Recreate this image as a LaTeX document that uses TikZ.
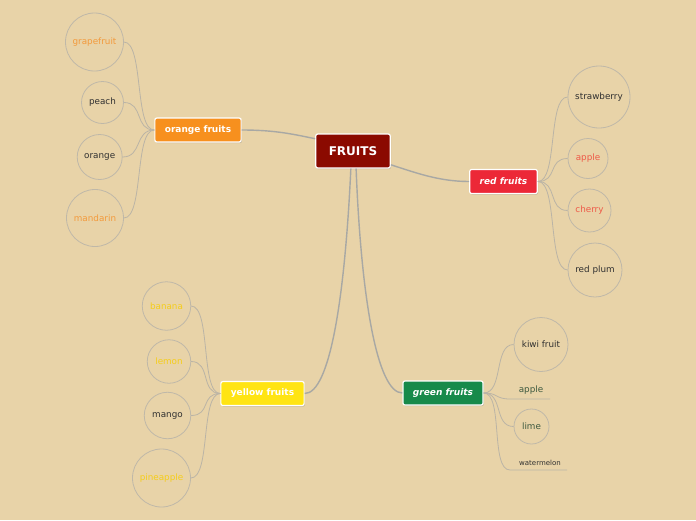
\documentclass[tikz,border=0pt]{standalone}
\usepackage{fontspec}
\setmainfont{DejaVu Sans}
\usetikzlibrary{shadows,calc}
\definecolor{bgc}{HTML}{E8D3A8}
\definecolor{rootc}{HTML}{8B0A00}
\definecolor{orangec}{HTML}{F7901E}
\definecolor{redc}{HTML}{EC2837}
\definecolor{yellowc}{HTML}{FFE413}
\definecolor{greenc}{HTML}{178A4A}
\definecolor{otext}{HTML}{F39A3C}
\definecolor{rtext}{HTML}{EE5A48}
\definecolor{ytext}{HTML}{F5CD1A}
\definecolor{gtext}{HTML}{3E5A40}
\definecolor{dtext}{HTML}{303030}
\definecolor{circc}{HTML}{BFB8A8}
\definecolor{leafline}{HTML}{BAB4A6}
\definecolor{mainline}{HTML}{A8A8A4}
\tikzset{
  branch/.style={draw=white, line width=1.2pt, rounded corners=2pt, text=white,
    font=\fontsize{9}{10}\selectfont\bfseries, inner xsep=10pt, inner ysep=0pt,
    minimum height=24pt,
    drop shadow={shadow xshift=0.8pt, shadow yshift=-1.2pt, opacity=0.35}},
  rootbox/.style={branch, fill=rootc, font=\fontsize{12}{13}\selectfont\bfseries,
    inner xsep=13pt, minimum height=34pt},
  leaf/.style={circle, draw=circc, line width=0.8pt, inner sep=0pt,
    font=\fontsize{8.8}{10}\selectfont, text=dtext},
  plain/.style={inner sep=0pt, font=\fontsize{8.8}{10}\selectfont, text=dtext},
  lconn/.style={draw=leafline, line width=0.8pt},
  mconn/.style={draw=mainline, line width=1.4pt},
}
\begin{document}
\begin{tikzpicture}[x=1pt,y=-1pt]
\fill[bgc] (0,0) rectangle (696,520);
\useasboundingbox (0,0) rectangle (696,520);

% root and branches
\node[rootbox] (fr) at (353,151) {FRUITS};
\node[branch, fill=orangec] (of) at (198,130) {orange fruits};
\node[branch, fill=redc, font=\fontsize{9}{10}\selectfont\bfseries\itshape] (rf) at (503.5,181.5) {red fruits};
\node[branch, fill=yellowc] (yf) at (262.5,393.5) {yellow fruits};
\node[branch, fill=greenc, font=\fontsize{9}{10}\selectfont\bfseries\itshape] (gf) at (443,393) {green fruits};

% orange leaves
\node[leaf, minimum size=58pt, text=otext] (gr) at (94.5,42) {grapefruit};
\node[leaf, minimum size=42pt] (pe) at (102.5,102.5) {peach};
\node[leaf, minimum size=45pt] (or) at (99.7,157) {orange};
\node[leaf, minimum size=57pt, text=otext] (ma) at (95,218) {mandarin};

% red leaves
\node[leaf, minimum size=62pt] (sb) at (599,97) {strawberry};
\node[leaf, minimum size=40pt, text=rtext] (ap) at (588,158.5) {apple};
\node[leaf, minimum size=43pt, text=rtext] (ch) at (589.5,210.5) {cherry};
\node[leaf, minimum size=54pt] (rp) at (595,270) {red plum};

% yellow leaves
\node[leaf, minimum size=48.5pt, text=ytext] (ba) at (166.5,306) {banana};
\node[leaf, minimum size=43.5pt, text=ytext] (le) at (169,361.5) {lemon};
\node[leaf, minimum size=46.5pt] (mg) at (167.5,415.5) {mango};
\node[leaf, minimum size=58pt, text=ytext] (pa) at (161.5,478) {pineapple};

% green leaves
\node[leaf, minimum size=54pt] (kw) at (541,344.5) {kiwi fruit};
\node[plain, text=gtext] (gap) at (531,390.5) {apple};
\coordinate (ga1) at (510,399);
\coordinate (ga2) at (550,399);
\node[leaf, minimum size=35pt, text=gtext] (li) at (531.5,426.5) {lime};
\node[plain, font=\fontsize{7}{8}\selectfont] (wm) at (540,462.5) {watermelon};
\coordinate (wm1) at (510,470);
\coordinate (wm2) at (567,470);

% main connectors
\draw[mconn] (of.east) .. controls +(35,0) and +(-20,-4) .. (fr.162);
\draw[mconn] (fr.-20) .. controls +(25,8) and +(-30,0) .. (rf.west);
\draw[mconn] (fr.263) .. controls +(-6,130) and +(25,0) .. (yf.east);
\draw[mconn] (fr.280) .. controls +(5,130) and +(-25,0) .. (gf.west);

% leaf connectors
\foreach \n in {gr,pe,or,ma}
  \draw[lconn] (of.west) .. controls +(-20,0) and +(20,0) .. (\n.east);
\foreach \n in {sb,ap,ch,rp}
  \draw[lconn] (rf.east) .. controls +(20,0) and +(-20,0) .. (\n.west);
\foreach \n in {ba,le,mg,pa}
  \draw[lconn] (yf.west) .. controls +(-20,0) and +(20,0) .. (\n.east);
\foreach \n in {kw,li}
  \draw[lconn] (gf.east) .. controls +(20,0) and +(-20,0) .. (\n.west);
\draw[lconn] (gf.east) .. controls +(15,0) and +(-15,0) .. (ga1) -- (ga2);
\draw[lconn] (gf.east) .. controls +(20,0) and +(-20,0) .. (wm1) -- (wm2);
\end{tikzpicture}
\end{document}
